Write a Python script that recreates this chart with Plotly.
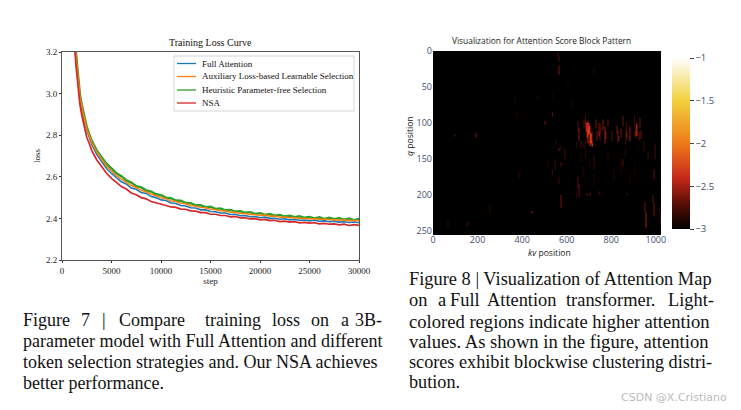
import numpy as np
import plotly.graph_objects as go

W, H = 741, 410
steps = [800,1000,1200,1400,1600,1800,2000,2250,2500,2750] + list(range(3000, 30001, 500))
full_attention = [3.8,3.55,3.33,3.17,3.06,2.98,2.925,2.865,2.825,2.79,
 2.757,2.708,2.672,2.64,2.616,2.595,2.576,2.565,2.546,2.54,2.524,2.52,2.505,2.5,2.489,2.486,2.474,2.472,2.462,2.46,2.451,2.45,2.441,2.441,2.433,2.432,2.426,2.426,2.419,2.42,2.413,2.414,2.408,2.409,2.403,2.406,2.400,2.401,2.396,2.398,2.393,2.395,2.391,2.392,2.388,2.391,2.386,2.388,2.384,2.386,2.382,2.384,2.380,2.383,2.379]
aux_loss = [3.82,3.57,3.35,3.19,3.07,2.99,2.935,2.875,2.83,2.80,
 2.768,2.72,2.683,2.652,2.628,2.606,2.589,2.574,2.558,2.548,2.535,2.528,2.516,2.509,2.499,2.495,2.484,2.481,2.473,2.47,2.461,2.46,2.452,2.451,2.444,2.442,2.437,2.436,2.43,2.43,2.424,2.424,2.419,2.419,2.414,2.416,2.41,2.411,2.406,2.407,2.403,2.404,2.4,2.401,2.397,2.399,2.395,2.397,2.393,2.395,2.391,2.393,2.389,2.391,2.388]
heuristic = [3.84,3.59,3.37,3.2,3.085,3.0,2.945,2.885,2.84,2.805,
 2.774,2.727,2.693,2.662,2.64,2.617,2.603,2.583,2.572,2.555,2.549,2.535,2.529,2.516,2.512,2.5,2.497,2.486,2.485,2.474,2.473,2.463,2.464,2.454,2.456,2.446,2.448,2.439,2.441,2.433,2.435,2.427,2.43,2.422,2.425,2.417,2.421,2.413,2.417,2.409,2.413,2.406,2.41,2.403,2.407,2.4,2.405,2.398,2.403,2.396,2.401,2.394,2.4,2.392,2.398]
nsa = [3.75,3.5,3.29,3.14,3.03,2.95,2.895,2.835,2.79,2.76,
 2.727,2.682,2.648,2.617,2.592,2.572,2.553,2.541,2.522,2.514,2.5,2.494,2.481,2.475,2.47,2.462,2.455,2.453,2.445,2.444,2.436,2.435,2.428,2.428,2.42,2.42,2.414,2.414,2.407,2.409,2.403,2.403,2.398,2.399,2.393,2.395,2.389,2.391,2.385,2.387,2.382,2.384,2.379,2.381,2.377,2.379,2.374,2.376,2.372,2.374,2.369,2.372,2.366,2.37,2.366]
legend_names = ["Full Attention", "Auxiliary Loss-based Learnable Selection", "Heuristic Parameter-free Selection", "NSA"]
legend_colors = ["#1f77b4", "#ff7f0e", "#2ca02c", "#d62728"]

# attention streaks: kv position, first q, last q, score
streak_kv = [558,560,562,560,722,535,535,500,98,188,440,
 680,672,650,655,690,695,700,705,710,715,680,730,740,750,760,770,780,
 800,820,830,840,850,860,865,880,900,910,915,925,930,
 640,660,675,550,560,570,590,535,545,380,385,
 650,655,560,575,575,680,690,700,740,850,860,870,
 950,952,955,960,945,985,990,995,1015,1020,
 990,945,860,640,720,65,150,155,375,365,255,
 685,688,692,698,702,708,735,745,755,775,825,835,870,905,920,
 660,670,680,700,720,780,810,840,880,900,
 600,620,300,420,470,515,610]
streak_q0 = [2,20,8,28,25,60,85,97,116,115,222,
 88,95,97,108,100,105,108,115,120,128,126,95,100,100,95,105,95,
 110,103,112,108,90,125,98,105,90,102,100,92,110,
 125,125,130,125,135,132,135,165,150,165,172,
 175,185,175,155,200,135,198,198,195,150,135,198,
 210,225,235,140,130,200,210,130,215,225,165,125,105,195,145,235,238,236,85,65,215,
 98,102,96,100,104,112,110,112,106,112,112,118,112,110,112,
 140,160,175,150,170,140,160,150,170,155,
 40,70,70,80,60,150,175]
streak_q1 = [8,30,14,33,32,65,91,102,119,120,226,
 100,108,112,125,120,128,132,128,133,133,130,108,118,112,110,128,105,
 125,115,125,120,105,130,120,125,105,120,118,108,122,
 135,135,135,130,138,138,150,172,165,172,175,
 190,202,185,160,218,150,201,201,200,160,145,201,
 225,240,245,150,140,210,230,150,225,240,178,135,125,205,165,245,244,243,92,72,225,
 112,118,108,116,124,126,125,124,116,122,128,126,124,118,124,
 155,175,190,165,190,155,180,170,185,175,
 46,78,76,86,68,160,185]
streak_v = [-2.75,-2.6,-2.7,-2.55,-2.85,-2.75,-2.4,-2.55,-2.6,-2.5,-2.45,
 -2.6,-2.7,-2.7,-2.55,-2.35,-2.3,-2.25,-2.3,-2.3,-2.4,-2.55,-2.6,-2.55,-2.6,-2.55,-2.5,-2.65,
 -2.7,-2.6,-2.55,-2.6,-2.65,-2.55,-2.55,-2.5,-2.65,-2.55,-2.5,-2.65,-2.6,
 -2.75,-2.75,-2.7,-2.8,-2.5,-2.7,-2.75,-2.65,-2.8,-2.8,-2.6,
 -2.7,-2.65,-2.75,-2.65,-2.6,-2.75,-2.5,-2.55,-2.7,-2.75,-2.7,-2.7,
 -2.6,-2.45,-2.4,-2.75,-2.8,-2.65,-2.6,-2.75,-2.7,-2.7,-2.65,-2.8,-2.75,-2.75,-2.8,-2.85,-2.85,-2.85,-2.85,-2.9,-2.85,
 -2.5,-2.4,-2.45,-2.35,-2.35,-2.5,-2.6,-2.65,-2.7,-2.65,-2.65,-2.7,-2.7,-2.7,-2.65,
 -2.9,-2.88,-2.88,-2.88,-2.9,-2.88,-2.9,-2.88,-2.9,-2.88,
 -2.9,-2.9,-2.92,-2.92,-2.9,-2.88,-2.9]
heat_ticks = [-1, -1.5, -2, -2.5, -3]
heat_ticklabels = ["\u22121", "\u22121.5", "\u22122", "\u22122.5", "\u22123"]

caption_lines = [
 (23, 320, "Figure", 18), (81, 320, "7", 18), (102, 320, "|", 18), (119, 320, "Compare", 18), (205, 320, "training", 18), (272, 320, "loss", 18), (311, 320, "on", 18), (341, 320, "a", 18), (355, 320, "3B-", 18),
 (23, 341, "parameter model with Full Attention and different", 18),
 (23, 362, "token selection strategies and. Our NSA achieves", 18),
 (23, 383, "better performance.", 18),
 (409, 279, "Figure 8 | Visualization of Attention Map", 18.4),
 (409, 300, "on", 18.4), (438, 300, "a", 18.4), (450, 300, "Full", 18.4), (487, 300, "Attention", 18.4), (566, 300, "transformer.", 18.4), (668, 300, "Light-", 18.4),
 (409, 321, "colored regions indicate higher attention", 18.6),
 (409, 341, "values. As shown in the figure, attention", 18.6),
 (409, 362, "scores exhibit blockwise clustering distri-", 18.2),
 (409, 382, "bution.", 18.2),
]

z = np.full((256, 256), -3.0)
for kv, q0, q1, v in zip(streak_kv, streak_q0, streak_q1, streak_v):
    z[q0:q1, kv // 4] = v

def px(x): return x / W
def py(y): return 1 - y / H

SERIF = "Liberation Serif"
SANS = "Open Sans"
fig = go.Figure()
series = [(full_attention, 0, 1.6), (heuristic, 2, 2.4), (aux_loss, 1, 1.5), (nsa, 3, 1.7)]
for vals, i, lw in series:
    fig.add_trace(go.Scatter(x=steps, y=vals, mode="lines", name=legend_names[i],
                             line=dict(color=legend_colors[i], width=lw), showlegend=False))
fig.add_trace(go.Heatmap(z=z, x0=2, dx=4, y0=0, dy=1, xaxis="x2", yaxis="y2", zmin=-3, zmax=-1, zsmooth="best",
    colorscale=[[0,"#000000"],[0.15,"#5a0f05"],[0.3,"#c8281a"],[0.5,"#ee7a18"],[0.75,"#f2d13e"],[1,"#ffffff"]],
    colorbar=dict(x=px(672), xanchor="left", y=py(229), yanchor="bottom", len=(229-58)/H, lenmode="fraction",
                  thickness=18, thicknessmode="pixels", outlinewidth=0, tickvals=heat_ticks, ticktext=heat_ticklabels,
                  ticks="outside", ticklen=4, tickcolor="#444", tickfont=dict(family=SANS, size=9.5, color="#3f4f6f"), xpad=0, ypad=0)))

ax_left = dict(showgrid=False, zeroline=False, showline=True, linecolor="#555", linewidth=1, mirror=True,
               ticks="outside", ticklen=2, tickcolor="#333", tickfont=dict(family=SERIF, size=9, color="#222"))
ax_right = dict(showgrid=False, zeroline=False, ticks="", tickfont=dict(family=SANS, size=9, color="#3f4f6f"))
fig.update_layout(
    width=W, height=H, margin=dict(l=0, r=0, t=0, b=0, autoexpand=False), paper_bgcolor="white", plot_bgcolor="white", showlegend=False,
    xaxis=dict(ax_left, domain=[px(62), px(359)], range=[0, 30000], tickvals=list(range(0, 30001, 5000)), tickformat="d",
               title=dict(text="step", font=dict(family=SERIF, size=9, color="#222"), standoff=1)),
    yaxis=dict(ax_left, domain=[py(260), py(52)], range=[2.2, 3.2], tickvals=[2.2,2.4,2.6,2.8,3.0,3.2], tickformat=".1f",
               title=dict(text="loss", font=dict(family=SERIF, size=9, color="#222"), standoff=3)),
    xaxis2=dict(ax_right, domain=[px(433), px(661)], range=[0, 1023], anchor="y2", tickvals=[0,200,400,600,800,1000], ticklabelstandoff=-2),
    yaxis2=dict(ax_right, domain=[py(235), py(51)], range=[255.5, 0], anchor="x2", tickvals=[0,50,100,150,200,250]),
)

ann = [
 dict(x=px(210), y=py(43), text="Training Loss Curve", font=dict(family=SERIF, size=10, color="#111"), xanchor="center"),
 dict(x=px(541), y=py(41), text="Visualization for Attention Score Block Pattern", font=dict(family=SANS, size=8.4, color="#222"), xanchor="center"),
 dict(x=px(549), y=py(253), text="<i>kv</i> position", font=dict(family=SANS, size=8.6, color="#222"), xanchor="center"),
 dict(x=px(410), y=py(136), text="<i>q</i> position", font=dict(family=SANS, size=8.6, color="#222"), xanchor="center", textangle=-90),
 dict(x=px(727), y=py(397), text="CSDN @X.Cristiano", font=dict(family="DejaVu Sans", size=11, color="#bbbbbb"), xanchor="right"),
]
for x, y, t, s in caption_lines:
    ann.append(dict(x=px(x), y=py(y), text=t, font=dict(family=SERIF, size=s, color="#111"), xanchor="left"))
legend_y = [63.5, 76.5, 90, 103]
for y, name in zip(legend_y, legend_names):
    ann.append(dict(x=px(202), y=py(y), text=name, font=dict(family=SERIF, size=9, color="#111"), xanchor="left"))
for a in ann:
    a.update(xref="paper", yref="paper", yanchor="middle", showarrow=False, borderpad=0, borderwidth=0)

shapes = [dict(type="rect", xref="paper", yref="paper", x0=px(174), x1=px(354), y0=py(111), y1=py(56),
               line=dict(color="#cccccc", width=0.8), fillcolor="rgba(255,255,255,0.85)", layer="above")]
for y, c in zip(legend_y, legend_colors):
    shapes.append(dict(type="line", xref="paper", yref="paper", x0=px(177), x1=px(196), y0=py(y), y1=py(y),
                       line=dict(color=c, width=1.3), layer="above"))
fig.update_layout(annotations=ann, shapes=shapes)
fig.write_html("out.html", config=dict(displayModeBar=False), post_script="document.body.style.margin='0';")
